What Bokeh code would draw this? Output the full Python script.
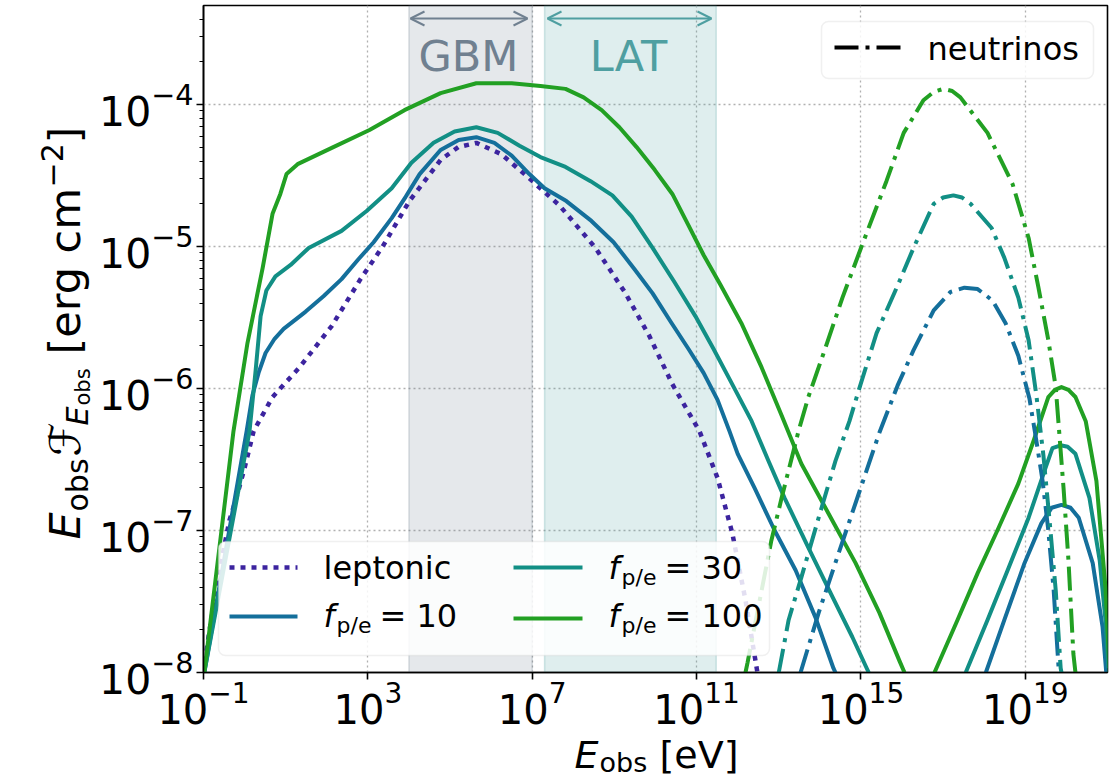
import numpy as np
from math import pi
from bokeh.plotting import figure
from bokeh.layouts import row, column
from bokeh.models import (FixedTicker, LogTickFormatter, BoxAnnotation,
                          Arrow, OpenHead, Label, Range1d)
from bokeh.core.properties import value
from bokeh.embed import file_html
from bokeh.resources import INLINE

# ---------------- data (log10 values) ----------------
# leptonic model
lep_logE = [-1.0, -0.88, -0.61, -0.37, -0.20, 0.00, 0.22, 0.68, 1.34, 2.12, 2.82, 3.36, 4.01, 4.77,
            5.20, 5.64, 6.25, 6.89, 7.66, 8.54, 9.25, 9.85, 10.41, 11.07, 11.51, 11.87, 12.19, 12.48]
lep_logF = [-8.0, -7.75, -7.28, -6.93, -6.77, -6.56, -6.30, -6.06, -5.85, -5.56, -5.23, -5.00, -4.68, -4.39,
            -4.30, -4.27, -4.35, -4.51, -4.71, -5.01, -5.32, -5.63, -5.97, -6.30, -6.63, -7.02, -7.49, -8.0]

# f_p/e = 10
fp10_logE = [-0.98, 0.05, 0.19, 0.34, 0.51, 0.73, 0.95, 1.48, 1.92, 2.36, 2.77, 3.14, 3.58, 3.92, 4.26,
             4.77, 5.21, 5.64, 6.08, 6.50, 6.93, 7.30, 7.83, 8.44, 8.98, 9.49, 9.93, 10.37, 10.80, 11.17,
             11.51, 11.80, 12.00, 12.41, 12.90, 13.41, 13.89, 14.33, 14.38]
fp10_logF = [-8.00, -6.30, -6.05, -5.89, -5.75, -5.65, -5.58, -5.46, -5.35, -5.23, -5.09, -4.97, -4.80,
             -4.65, -4.49, -4.32, -4.25, -4.23, -4.27, -4.36, -4.49, -4.59, -4.68, -4.82, -4.97, -5.16,
             -5.33, -5.53, -5.72, -5.89, -6.08, -6.30, -6.46, -6.70, -7.00, -7.28, -7.61, -7.97, -8.00]
fp10_hi_logE = [18.04, 18.49, 18.98, 19.39, 19.64, 19.88, 20.10, 20.30, 20.64, 20.88, 20.97]
fp10_hi_logF = [-8.0, -7.63, -7.23, -6.95, -6.84, -6.82, -6.84, -6.91, -7.23, -7.68, -8.0]

# f_p/e = 30
fp30_logE = [-0.98, 0.12, 0.27, 0.39, 0.53, 0.75, 1.12, 1.56, 2.36, 2.97, 3.58, 4.06, 4.60, 5.11, 5.64,
             6.16, 6.69, 7.20, 7.81, 8.42, 8.95, 9.42, 9.93, 10.46, 10.97, 11.41, 11.85, 12.34, 12.75,
             13.14, 13.72, 14.31, 14.79, 15.14, 15.19]
fp30_logF = [-8.0, -6.30, -5.87, -5.49, -5.31, -5.21, -5.13, -5.01, -4.89, -4.75, -4.59, -4.41, -4.27,
             -4.19, -4.16, -4.20, -4.29, -4.37, -4.44, -4.54, -4.64, -4.79, -5.01, -5.25, -5.49, -5.72,
             -5.96, -6.23, -6.51, -6.77, -7.12, -7.47, -7.75, -7.97, -8.0]
fp30_hi_logE = [17.55, 18.08, 18.57, 19.08, 19.49, 19.66, 19.86, 20.03, 20.22, 20.56, 20.81, 20.95, 21.02]
fp30_hi_logF = [-8.0, -7.63, -7.28, -6.91, -6.56, -6.42, -6.40, -6.41, -6.46, -6.77, -7.21, -7.63, -7.97]

# f_p/e = 100
fp100_logE = [-0.98, -0.27, 0.07, 0.44, 0.68, 0.87, 1.02, 1.29, 2.16, 3.04, 3.89, 4.77, 5.64, 6.50, 7.20,
              7.81, 8.25, 8.69, 9.12, 9.54, 9.98, 10.41, 10.80, 11.17, 11.58, 12.09, 12.58, 13.07, 13.55,
              14.21, 14.87, 15.45, 15.94, 16.06]
fp100_logF = [-8.0, -6.30, -5.68, -5.15, -4.77, -4.63, -4.49, -4.42, -4.30, -4.18, -4.04, -3.92, -3.85,
              -3.85, -3.87, -3.89, -3.95, -4.04, -4.16, -4.30, -4.46, -4.63, -4.85, -5.06, -5.27, -5.54,
              -5.85, -6.19, -6.53, -6.88, -7.23, -7.58, -7.92, -8.0]
fp100_hi_logE = [16.79, 17.35, 17.84, 18.32, 18.83, 19.20, 19.56, 19.72, 19.88, 20.05, 20.22, 20.47, 20.73,
                 20.95, 21.05]
fp100_hi_logF = [-8.0, -7.63, -7.30, -7.00, -6.67, -6.37, -6.06, -6.01, -5.99, -6.01, -6.06, -6.23, -6.65,
                 -7.40, -8.0]

# neutrinos
nu10_logE = [13.53, 13.97, 14.48, 14.97, 15.45, 15.89, 16.28, 16.77, 17.18, 17.52, 17.84, 18.20, 18.52,
             18.83, 19.10, 19.27, 19.42, 19.56, 19.69, 19.81, 19.82]
nu10_logF = [-8.0, -7.58, -7.14, -6.72, -6.31, -5.98, -5.73, -5.45, -5.32, -5.29, -5.30, -5.38, -5.54,
             -5.77, -6.07, -6.37, -6.65, -7.00, -7.42, -7.97, -8.0]
nu30_logE = [13.00, 13.24, 13.55, 13.97, 14.38, 14.72, 14.97, 15.38, 15.87, 16.28, 16.77, 17.00, 17.25,
             17.46, 17.67, 18.18, 18.49, 18.83, 19.08, 19.27, 19.44, 19.59, 19.74, 19.86, 19.88]
nu30_logF = [-8.0, -7.63, -7.33, -6.91, -6.51, -6.23, -5.99, -5.61, -5.29, -5.01, -4.70, -4.655, -4.64,
             -4.655, -4.70, -4.87, -5.08, -5.36, -5.66, -6.05, -6.47, -6.93, -7.42, -7.97, -8.0]
nu100_logE = [12.19, 12.24, 12.82, 13.07, 13.48, 13.72, 14.14, 14.55, 15.04, 15.62, 16.04, 16.52, 16.78,
              17.01, 17.22, 17.42, 18.08, 18.69, 19.08, 19.32, 19.56, 19.74, 19.93, 20.05, 20.17, 20.22]
nu100_logF = [-8.0, -7.93, -7.07, -6.77, -6.30, -6.06, -5.71, -5.36, -4.98, -4.54, -4.20, -3.97, -3.91,
              -3.89, -3.905, -3.95, -4.20, -4.56, -4.94, -5.29, -5.66, -5.99, -6.70, -7.21, -7.87, -8.0]

# instrument bands [eV]
GBM_band = [1e4, 1e7]
LAT_band = [2e7, 3e11]

x_ticks = [1e-1, 1e3, 1e7, 1e11, 1e15, 1e19]
y_ticks = [1e-8, 1e-7, 1e-6, 1e-5, 1e-4]
X_LIM = [1e-1, 1e21]

# ---------------- styles ----------------
C_LEP = "#3c249f"
C10 = "#146f9b"
C30 = "#128f85"
C100 = "#22a023"
C_GBM = "#708090"
C_LAT = "#4f9fa1"
FONT = "DejaVu Sans"
DASHDOT = "24 7 4 7"
DOTTED = "5 6"
K = 0.346          # baseline correction (fraction of font size)

YLAB_W = 96
TOTAL_H = 778
MAIN_BL, MAIN_BR, MAIN_BT, MAIN_BB = 107, 8, 5, 61
FRAME_W, FRAME_H = 904, 667
MAIN_W = MAIN_BL + FRAME_W + MAIN_BR
MAIN_H = MAIN_BT + FRAME_H + MAIN_BB
XLAB_H = TOTAL_H - MAIN_H

def no_align(f):
    try:
        f.frame_align = False
    except Exception:
        pass

p = figure(x_axis_type="log", y_axis_type="log",
           x_range=Range1d(*X_LIM), y_range=Range1d(1e-8, 10 ** (-8 + FRAME_H / 142.0)),
           frame_width=FRAME_W, frame_height=FRAME_H,
           min_border_left=MAIN_BL, min_border_right=MAIN_BR,
           min_border_top=MAIN_BT, min_border_bottom=MAIN_BB,
           output_backend="svg", toolbar_location=None)
no_align(p)
p.background_fill_color = "white"
p.border_fill_color = "white"
p.outline_line_color = "black"
p.outline_line_width = 1.6
p.outline_line_alpha = 1.0

y_minor = [m * 10.0 ** k for k in range(-8, -3) for m in range(2, 10)]
p.xaxis.ticker = FixedTicker(ticks=x_ticks, minor_ticks=[])
p.yaxis.ticker = FixedTicker(ticks=y_ticks, minor_ticks=y_minor)
for ax in (p.xaxis[0], p.yaxis[0]):
    ax.formatter = LogTickFormatter()
    ax.axis_line_width = 1.6
    ax.axis_line_color = "black"
    ax.major_tick_line_width = 1.6
    ax.minor_tick_line_width = 1.2
    ax.major_tick_out = 7
    ax.major_tick_in = 0
    ax.minor_tick_out = 4
    ax.minor_tick_in = 0
    ax.major_label_text_font = FONT
    ax.major_label_text_color = "black"
p.yaxis.major_label_text_font_size = "41px"
p.yaxis.major_label_standoff = 3
p.xaxis.major_label_text_font_size = "40px"
p.xaxis.major_label_standoff = 1

for g in (p.xgrid[0], p.ygrid[0]):
    g.grid_line_color = "#b0b0b0"
    g.grid_line_dash = "2 3"
    g.grid_line_width = 1.3

# instrument bands
for band, col in ((GBM_band, C_GBM), (LAT_band, C_LAT)):
    p.add_layout(BoxAnnotation(left=band[0], right=band[1], fill_color=col, fill_alpha=0.18,
                               line_color=col, line_alpha=0.25, line_width=1.5, level="underlay"))

def L(v):
    return 10.0 ** np.array(v)

# curves
p.line(L(lep_logE), L(lep_logF), line_color=C_LEP, line_width=4.5, line_dash=DOTTED, line_cap="butt")
for (xe, yf, xh, yh, col) in ((fp10_logE, fp10_logF, fp10_hi_logE, fp10_hi_logF, C10),
                              (fp30_logE, fp30_logF, fp30_hi_logE, fp30_hi_logF, C30),
                              (fp100_logE, fp100_logF, fp100_hi_logE, fp100_hi_logF, C100)):
    p.line(L(xe), L(yf), line_color=col, line_width=4, line_join="round")
    p.line(L(xh), L(yh), line_color=col, line_width=4, line_join="round")
for (xe, yf, col) in ((nu10_logE, nu10_logF, C10), (nu30_logE, nu30_logF, C30),
                      (nu100_logE, nu100_logF, C100)):
    p.line(L(xe), L(yf), line_color=col, line_width=4, line_dash=DASHDOT, line_cap="butt")

# ---------------- annotations (screen units: from frame bottom-left) ----------------
def lab(x, y, text, size, color="black", style="normal", align="left"):
    p.add_layout(Label(x=x, y=y + K * size, x_units="screen", y_units="screen", text=text,
                       text_font=FONT, text_font_size=f"{size}px", text_color=color,
                       text_font_style=style, text_align=align, text_baseline="alphabetic"))

def seg(x0, x1, y, color, dash="solid", width=4):
    p.add_layout(Arrow(end=None, x_start=x0, y_start=y, x_end=x1, y_end=y,
                       start_units="screen", end_units="screen",
                       line_color=color, line_width=width, line_dash=dash))

# GBM / LAT arrows and titles
for (x0, x1, col, txt_, xc) in ((207, 324, C_GBM, "GBM", 265), (344, 508, C_LAT, "LAT", 425)):
    p.add_layout(Arrow(start=OpenHead(size=14, line_color=col, line_width=2),
                       end=OpenHead(size=14, line_color=col, line_width=2),
                       x_start=x0, y_start=654, x_end=x1, y_end=654,
                       start_units="screen", end_units="screen",
                       line_color=col, line_width=2))
    lab(xc, 602, txt_, 43, color=col, align="center")

# neutrino legend
p.add_layout(BoxAnnotation(left=618, right=890, top=651, bottom=594,
                           left_units="screen", right_units="screen",
                           top_units="screen", bottom_units="screen",
                           fill_color="white", fill_alpha=0.85, line_color="#cccccc",
                           line_width=1.5, border_radius=7))
seg(631, 698, 625, "black", DASHDOT)
lab(724, 612, "neutrinos", 32)

# model legend
p.add_layout(BoxAnnotation(left=15, right=566, top=131, bottom=17,
                           left_units="screen", right_units="screen",
                           top_units="screen", bottom_units="screen",
                           fill_color="white", fill_alpha=0.85, line_color="#cccccc",
                           line_width=1.5, border_radius=7))
seg(26, 94, 105, C_LEP, DOTTED, 4.5)
lab(120, 93, "leptonic", 32)

def fpe_label(x, y, num):
    lab(x, y, "f", 32, style="italic")
    lab(x + 13, y - 6, "p/e", 22)
    lab(x + 56, y, f"= {num}", 32)

seg(26, 94, 56, C10)
fpe_label(120, 45, "10")
seg(310, 379, 105, C30)
fpe_label(405, 93, "30")
seg(310, 379, 54, C100)
fpe_label(405, 45, "100")

# ---------------- axis-title panels ----------------
def blank_fig(w, h):
    f = figure(width=w, height=h, x_range=Range1d(0, w), y_range=Range1d(0, h),
               min_border=0, x_axis_location=None, y_axis_location=None,
               toolbar_location=None, output_backend="svg")
    no_align(f)
    f.outline_line_color = None
    f.grid.visible = False
    f.background_fill_color = "white"
    f.border_fill_color = "white"
    return f

def txt(f, x, y, text, size, style="normal", angle=0.0):
    f.text(x=[x], y=[y], text=[text], text_font=value(FONT), text_font_size=value(f"{size}px"),
           text_font_style=value(style), text_color="black", text_align="left",
           text_baseline="alphabetic", angle=angle)

# y title: E_obs F_{E_obs} [erg cm^-2], rotated, baseline at x=79
ylab = blank_fig(YLAB_W, TOTAL_H)
A = pi / 2
xb = 79
txt(ylab, xb - K * 43, 239, "E", 43, style="italic", angle=A)
txt(ylab, xb + 8 - K * 30, 267, "obs", 30, angle=A)
txt(ylab, xb - K * 43, 322, "\u2131", 43, angle=A)
txt(ylab, xb + 8 - K * 30, 353, "E", 30, style="italic", angle=A)
txt(ylab, xb + 11 - K * 21, 373, "obs", 21, angle=A)
txt(ylab, xb - K * 43, 424, "[erg cm", 43, angle=A)
txt(ylab, xb - 17 - K * 30, 591, "\u22122", 30, angle=A)
txt(ylab, xb - K * 43, 635, "]", 43, angle=A)

# x title: E_obs [eV]
xlab = blank_fig(MAIN_W, XLAB_H)
FS, SFS = 38, 27
x0 = 574 - YLAB_W
base_y = (TOTAL_H - 768)
txt(xlab, x0, base_y + K * FS, "E", FS, style="italic")
txt(xlab, x0 + 25, base_y - 3 + K * SFS, "obs", SFS)
txt(xlab, x0 + 25 + 48 + 12, base_y + K * FS, "[eV]", FS)

layout = row(ylab, column(p, xlab, spacing=0), spacing=0)
open("out.html", "w").write(file_html(layout, INLINE))
